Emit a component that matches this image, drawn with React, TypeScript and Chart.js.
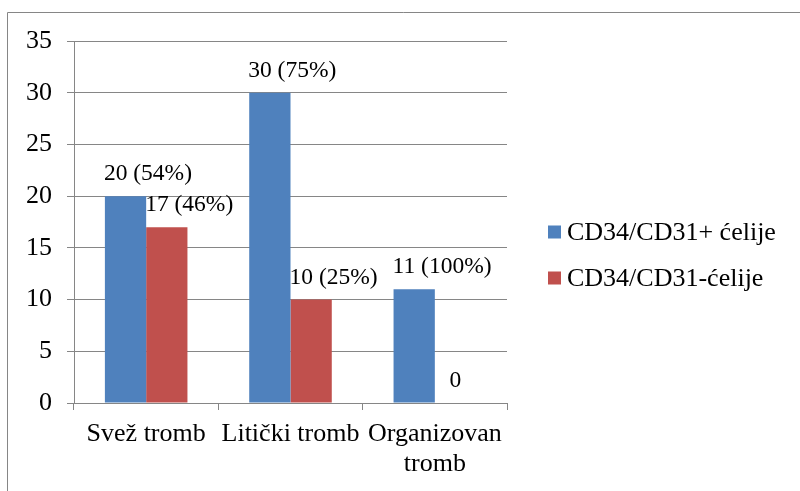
import React, { useEffect, useRef } from "react";
import { Chart, registerables } from "chart.js";

Chart.register(...registerables);

const categories: (string | string[])[] = ["Svež tromb", "Litički tromb", ["Organizovan", "tromb"]];
const seriesNames = ["CD34/CD31+ ćelije", "CD34/CD31-ćelije"];
const positiveCounts = [20, 30, 11];
const negativeCounts = [17, 10, 0];
const positivePct: (number | null)[] = [54, 75, 100];
const negativePct: (number | null)[] = [46, 25, null];
const seriesColors = ["#4F81BD", "#C0504D"];
const yMin = 0;
const yMax = 35;
const yStep = 5;

const FONT = '"Liberation Serif", "Times New Roman", Times, serif';
const GRID = "#868686";

const frameAndLegend = {
  id: "frameAndLegend",
  beforeDraw(chart: any) {
    const ctx = chart.ctx;
    ctx.save();
    ctx.fillStyle = "#ffffff";
    ctx.fillRect(0, 0, chart.width, chart.height);
    ctx.strokeStyle = GRID;
    ctx.lineWidth = 1;
    ctx.beginPath();
    ctx.moveTo(7.5, chart.height);
    ctx.lineTo(7.5, 12.5);
    ctx.lineTo(chart.width, 12.5);
    ctx.stroke();
    ctx.restore();
  },
  afterDraw(chart: any) {
    const ctx = chart.ctx;
    ctx.save();
    const ds = chart.data.datasets;
    const ys = [232, 278];
    ds.forEach((d: any, i: number) => {
      ctx.fillStyle = d.backgroundColor;
      ctx.fillRect(548, ys[i] - 6.5, 13, 13);
      ctx.fillStyle = "#000000";
      ctx.font = `26px ${FONT}`;
      ctx.textBaseline = "middle";
      ctx.textAlign = "left";
      ctx.fillText(d.label, 567, ys[i] + 1);
    });
    ctx.restore();
  },
};

const pctLists = [positivePct, negativePct];

const dataLabels = {
  id: "dataLabels",
  afterDatasetsDraw(chart: any) {
    const ctx = chart.ctx;
    ctx.save();
    ctx.font = `23.5px ${FONT}`;
    ctx.fillStyle = "#000000";
    ctx.textBaseline = "middle";
    chart.data.datasets.forEach((d: any, di: number) => {
      const meta = chart.getDatasetMeta(di);
      meta.data.forEach((bar: any, i: number) => {
        const v = d.data[i];
        const p = pctLists[di][i];
        const y = bar.y - 22;
        if (p === null || p === undefined) {
          ctx.textAlign = "center";
          ctx.fillText(String(v), bar.x, y);
        } else {
          ctx.textAlign = "left";
          ctx.fillText(`${v} (${p}%)`, bar.x - bar.width / 2 - 1, y);
        }
      });
    });
    ctx.restore();
  },
};

export default function App() {
  const ref = useRef<HTMLCanvasElement>(null);
  useEffect(() => {
    document.body.style.margin = "0";
    let chart: Chart | null = null;
    let cancelled = false;
    const build = () => {
      if (cancelled || !ref.current) return;
      chart = new Chart(ref.current, {
        type: "bar",
        data: {
          labels: categories,
          datasets: [
            { label: seriesNames[0], data: positiveCounts, backgroundColor: seriesColors[0] },
            { label: seriesNames[1], data: negativeCounts, backgroundColor: seriesColors[1] },
          ],
        },
        options: {
          animation: false,
          responsive: false,
          devicePixelRatio: 1,
          layout: { padding: { left: 0, top: 41, right: 293, bottom: 0 } },
          plugins: { legend: { display: false }, tooltip: { enabled: false } },
          datasets: { bar: { barPercentage: 1, categoryPercentage: 0.572 } },
          scales: {
            x: {
              grid: { drawOnChartArea: false, drawTicks: true, tickLength: 7, color: GRID, offset: true },
              border: { display: true, color: GRID },
              ticks: {
                color: "#000000",
                font: { family: FONT, size: 26, lineHeight: 1.15 },
                maxRotation: 0,
                minRotation: 0,
                autoSkip: false,
                padding: 9,
              },
              afterFit: (s: any) => {
                s.height = 88;
              },
            },
            y: {
              min: yMin,
              max: yMax,
              grid: { color: GRID, tickLength: 7, drawTicks: true },
              border: { display: true, color: GRID },
              ticks: {
                stepSize: yStep,
                color: "#000000",
                font: { family: FONT, size: 26 },
                padding: 15,
              },
              afterFit: (s: any) => {
                s.width = 74;
              },
            },
          },
        },
        plugins: [frameAndLegend, dataLabels],
      });
    };
    const fontsApi = (document as any).fonts;
    if (fontsApi && fontsApi.load) {
      Promise.all([
        fontsApi.load('26px "Liberation Serif"', "CD34ćž"),
        fontsApi.load('23.5px "Liberation Serif"', "0123456789%()"),
      ])
        .catch(() => null)
        .then(build);
    } else {
      build();
    }
    return () => {
      cancelled = true;
      if (chart) chart.destroy();
    };
  }, []);
  return (
    <div style={{ position: "absolute", left: 0, top: 0, width: 800, height: 491 }}>
      <canvas ref={ref} width={800} height={491} />
    </div>
  );
}
